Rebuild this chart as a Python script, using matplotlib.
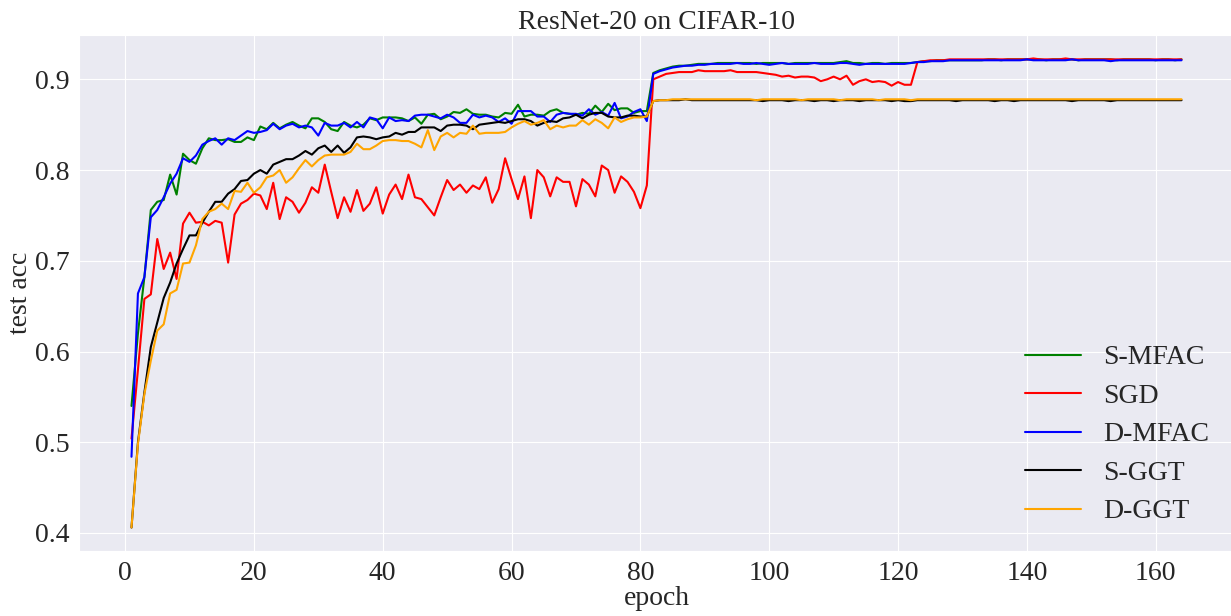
import numpy as np
import matplotlib
matplotlib.use("Agg")
import matplotlib.pyplot as plt
import seaborn as sns

sns.set_style("darkgrid")
plt.rcParams['font.family'] = ['Liberation Serif', 'DejaVu Serif']

epochs = list(range(1, 165))

s_mfac = [
    0.540, 0.620, 0.682, 0.756, 0.765, 0.767, 0.795, 0.773, 0.818, 0.811,
    0.807, 0.824, 0.835, 0.833, 0.833, 0.834, 0.831, 0.831, 0.836, 0.833,
    0.848, 0.845, 0.852, 0.846, 0.850, 0.853, 0.849, 0.846, 0.857, 0.857,
    0.853, 0.845, 0.843, 0.853, 0.849, 0.847, 0.850, 0.857, 0.855, 0.858,
    0.858, 0.858, 0.857, 0.854, 0.858, 0.851, 0.861, 0.862, 0.856, 0.859,
    0.864, 0.863, 0.867, 0.862, 0.861, 0.861, 0.859, 0.858, 0.863, 0.862,
    0.872, 0.859, 0.861, 0.861, 0.860, 0.865, 0.867, 0.863, 0.862, 0.861,
    0.863, 0.862, 0.871, 0.864, 0.873, 0.866, 0.868, 0.868, 0.863, 0.865,
    0.865, 0.907, 0.910, 0.912, 0.914, 0.915, 0.915, 0.916, 0.917, 0.917,
    0.917, 0.918, 0.918, 0.918, 0.918, 0.918, 0.918, 0.917, 0.918, 0.918,
    0.918, 0.918, 0.917, 0.918, 0.918, 0.918, 0.918, 0.918, 0.918, 0.918,
    0.919, 0.920, 0.918, 0.918, 0.917, 0.918, 0.918, 0.917, 0.918, 0.918,
    0.918, 0.918, 0.919, 0.920, 0.920, 0.921, 0.921, 0.921, 0.921, 0.921,
    0.921, 0.921, 0.921, 0.922, 0.922, 0.921, 0.922, 0.922, 0.922, 0.922,
    0.922, 0.922, 0.921, 0.922, 0.922, 0.922, 0.922, 0.921, 0.922, 0.922,
    0.922, 0.922, 0.922, 0.921, 0.922, 0.922, 0.922, 0.922, 0.922, 0.921,
    0.922, 0.922, 0.921, 0.922]

sgd = [
    0.504, 0.580, 0.658, 0.663, 0.724, 0.691, 0.709, 0.680, 0.741, 0.753,
    0.742, 0.743, 0.739, 0.744, 0.742, 0.698, 0.751, 0.763, 0.767, 0.774,
    0.772, 0.757, 0.786, 0.746, 0.770, 0.765, 0.753, 0.764, 0.781, 0.775,
    0.806, 0.776, 0.747, 0.770, 0.754, 0.778, 0.755, 0.763, 0.781, 0.752,
    0.773, 0.784, 0.768, 0.795, 0.770, 0.768, 0.759, 0.750, 0.770, 0.789,
    0.778, 0.784, 0.775, 0.783, 0.779, 0.792, 0.764, 0.779, 0.813, 0.790,
    0.768, 0.793, 0.747, 0.800, 0.792, 0.771, 0.792, 0.787, 0.787, 0.760,
    0.790, 0.784, 0.771, 0.805, 0.800, 0.775, 0.793, 0.787, 0.776, 0.758,
    0.783, 0.900, 0.903, 0.906, 0.907, 0.908, 0.908, 0.908, 0.910, 0.909,
    0.909, 0.909, 0.909, 0.910, 0.908, 0.908, 0.908, 0.908, 0.907, 0.906,
    0.905, 0.903, 0.904, 0.902, 0.903, 0.903, 0.902, 0.898, 0.900, 0.903,
    0.900, 0.904, 0.894, 0.898, 0.900, 0.897, 0.898, 0.897, 0.893, 0.897,
    0.894, 0.894, 0.919, 0.920, 0.921, 0.921, 0.921, 0.922, 0.922, 0.922,
    0.922, 0.922, 0.922, 0.922, 0.922, 0.922, 0.922, 0.922, 0.922, 0.922,
    0.923, 0.922, 0.922, 0.922, 0.922, 0.923, 0.922, 0.922, 0.922, 0.922,
    0.922, 0.922, 0.922, 0.922, 0.922, 0.922, 0.922, 0.922, 0.922, 0.922,
    0.922, 0.922, 0.922, 0.922]

d_mfac = [
    0.484, 0.664, 0.682, 0.748, 0.756, 0.770, 0.785, 0.796, 0.813, 0.809,
    0.816, 0.828, 0.832, 0.835, 0.828, 0.835, 0.833, 0.838, 0.843, 0.841,
    0.842, 0.844, 0.851, 0.845, 0.849, 0.851, 0.847, 0.849, 0.847, 0.838,
    0.852, 0.849, 0.849, 0.852, 0.847, 0.853, 0.847, 0.858, 0.856, 0.846,
    0.858, 0.854, 0.855, 0.854, 0.860, 0.861, 0.861, 0.859, 0.857, 0.861,
    0.858, 0.852, 0.852, 0.861, 0.858, 0.860, 0.858, 0.853, 0.857, 0.851,
    0.865, 0.865, 0.865, 0.859, 0.859, 0.853, 0.861, 0.863, 0.862, 0.862,
    0.860, 0.867, 0.861, 0.864, 0.860, 0.874, 0.857, 0.859, 0.864, 0.867,
    0.854, 0.906, 0.909, 0.911, 0.913, 0.914, 0.915, 0.915, 0.916, 0.916,
    0.917, 0.917, 0.917, 0.917, 0.918, 0.917, 0.917, 0.918, 0.917, 0.916,
    0.917, 0.918, 0.917, 0.917, 0.917, 0.917, 0.918, 0.917, 0.917, 0.917,
    0.918, 0.918, 0.917, 0.916, 0.917, 0.917, 0.917, 0.917, 0.917, 0.917,
    0.917, 0.918, 0.919, 0.919, 0.920, 0.920, 0.920, 0.921, 0.921, 0.921,
    0.921, 0.921, 0.921, 0.921, 0.921, 0.921, 0.921, 0.921, 0.921, 0.922,
    0.921, 0.921, 0.921, 0.921, 0.921, 0.921, 0.922, 0.921, 0.921, 0.921,
    0.921, 0.921, 0.920, 0.921, 0.921, 0.921, 0.921, 0.921, 0.921, 0.921,
    0.921, 0.921, 0.921, 0.921]

s_ggt = [
    0.406, 0.500, 0.555, 0.605, 0.632, 0.659, 0.676, 0.697, 0.713, 0.728,
    0.728, 0.742, 0.754, 0.765, 0.765, 0.774, 0.779, 0.788, 0.789, 0.796,
    0.800, 0.796, 0.806, 0.809, 0.812, 0.812, 0.816, 0.821, 0.817, 0.824,
    0.827, 0.820, 0.827, 0.819, 0.825, 0.836, 0.837, 0.836, 0.834, 0.836,
    0.837, 0.841, 0.839, 0.842, 0.842, 0.847, 0.847, 0.847, 0.843, 0.849,
    0.850, 0.850, 0.849, 0.845, 0.850, 0.851, 0.852, 0.853, 0.852, 0.854,
    0.856, 0.856, 0.854, 0.849, 0.852, 0.854, 0.853, 0.857, 0.858, 0.861,
    0.857, 0.861, 0.863, 0.863, 0.859, 0.858, 0.858, 0.860, 0.860, 0.859,
    0.859, 0.876, 0.877, 0.877, 0.877, 0.877, 0.878, 0.877, 0.877, 0.877,
    0.877, 0.877, 0.877, 0.877, 0.877, 0.877, 0.877, 0.877, 0.876, 0.877,
    0.877, 0.877, 0.876, 0.877, 0.877, 0.877, 0.876, 0.877, 0.877, 0.876,
    0.877, 0.877, 0.877, 0.876, 0.877, 0.877, 0.877, 0.877, 0.876, 0.877,
    0.876, 0.876, 0.877, 0.877, 0.877, 0.877, 0.877, 0.877, 0.876, 0.877,
    0.877, 0.877, 0.877, 0.877, 0.876, 0.877, 0.877, 0.876, 0.877, 0.877,
    0.877, 0.877, 0.877, 0.877, 0.877, 0.877, 0.876, 0.877, 0.877, 0.877,
    0.877, 0.877, 0.876, 0.877, 0.877, 0.877, 0.877, 0.877, 0.877, 0.877,
    0.877, 0.877, 0.877, 0.877]

d_ggt = [
    0.406, 0.498, 0.553, 0.590, 0.623, 0.630, 0.664, 0.668, 0.697, 0.698,
    0.717, 0.746, 0.754, 0.757, 0.763, 0.757, 0.777, 0.776, 0.786, 0.775,
    0.781, 0.792, 0.794, 0.800, 0.786, 0.792, 0.802, 0.811, 0.804, 0.811,
    0.816, 0.817, 0.817, 0.817, 0.820, 0.829, 0.823, 0.823, 0.827, 0.832,
    0.833, 0.833, 0.832, 0.832, 0.829, 0.825, 0.844, 0.822, 0.837, 0.841,
    0.836, 0.841, 0.840, 0.849, 0.840, 0.841, 0.841, 0.841, 0.842, 0.847,
    0.851, 0.854, 0.850, 0.852, 0.855, 0.845, 0.849, 0.847, 0.849, 0.849,
    0.855, 0.850, 0.856, 0.852, 0.846, 0.858, 0.853, 0.856, 0.858, 0.858,
    0.859, 0.876, 0.877, 0.877, 0.878, 0.878, 0.878, 0.878, 0.878, 0.878,
    0.878, 0.878, 0.878, 0.878, 0.878, 0.878, 0.878, 0.877, 0.878, 0.878,
    0.878, 0.878, 0.878, 0.878, 0.877, 0.878, 0.878, 0.878, 0.878, 0.878,
    0.877, 0.878, 0.878, 0.878, 0.878, 0.878, 0.877, 0.878, 0.878, 0.878,
    0.878, 0.877, 0.878, 0.878, 0.878, 0.878, 0.878, 0.878, 0.878, 0.878,
    0.878, 0.878, 0.878, 0.878, 0.878, 0.878, 0.878, 0.878, 0.878, 0.878,
    0.878, 0.878, 0.878, 0.878, 0.878, 0.878, 0.878, 0.878, 0.878, 0.878,
    0.878, 0.878, 0.878, 0.878, 0.878, 0.878, 0.878, 0.878, 0.878, 0.878,
    0.878, 0.878, 0.878, 0.878]

fig = plt.figure(figsize=(12.31, 6.16), dpi=100)
ax = fig.add_axes([79 / 1231, 1 - 551 / 616, 1155 / 1231, 516 / 616])

ax.plot(epochs, s_mfac, color='green', lw=1.5, label='S-MFAC')
ax.plot(epochs, sgd, color='red', lw=1.5, label='SGD')
ax.plot(epochs, d_mfac, color='blue', lw=1.5, label='D-MFAC')
ax.plot(epochs, s_ggt, color='black', lw=1.5, label='S-GGT')
ax.plot(epochs, d_ggt, color='orange', lw=1.5, label='D-GGT')

ax.set_title('ResNet-20 on CIFAR-10', fontsize=20, pad=4)
ax.set_xlabel('epoch', fontsize=20, labelpad=0)
ax.set_ylabel('test acc', fontsize=20, labelpad=1)
ax.tick_params(labelsize=20)
ax.set_xticks(range(0, 161, 20))
ax.set_yticks([0.4, 0.5, 0.6, 0.7, 0.8, 0.9])
ax.set_yticklabels(['0.4', '0.5', '0.6', '0.7', '0.8', '0.9'])

ax.legend(loc='lower right', fontsize=20, frameon=False, labelspacing=0.47,
          handlelength=2.0, handletextpad=0.8, bbox_to_anchor=(1.0, 0.003))

fig.savefig('out.png', dpi=100)
